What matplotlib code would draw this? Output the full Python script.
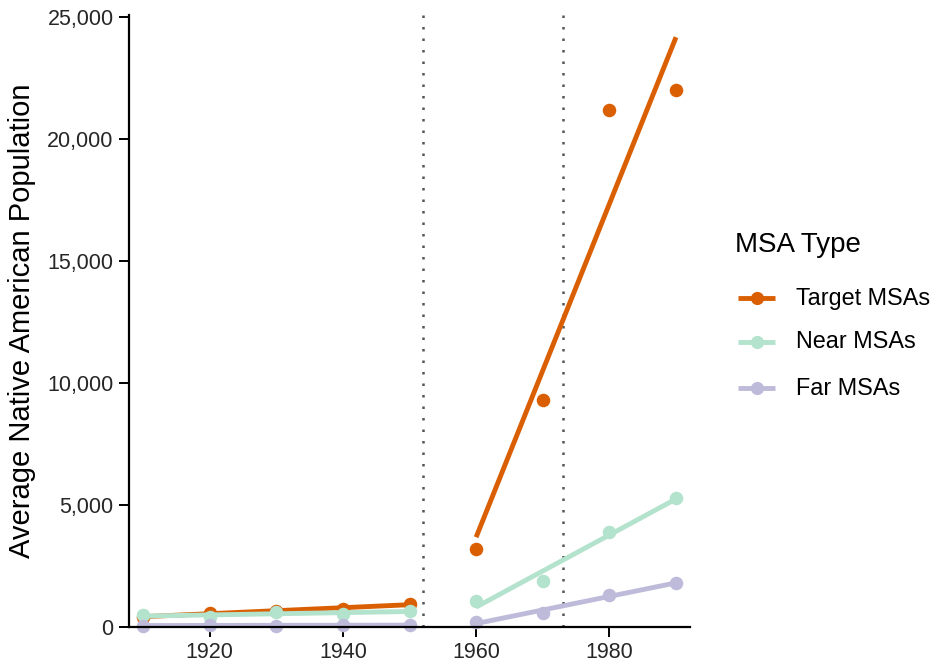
import numpy as np
import matplotlib
matplotlib.use("Agg")
import matplotlib.pyplot as plt
from matplotlib.lines import Line2D
from matplotlib.ticker import FuncFormatter

plt.rcParams['font.family'] = ['Liberation Sans', 'DejaVu Sans']

years_pre = [1910, 1920, 1930, 1940, 1950]
years_post = [1960, 1970, 1980, 1990]

target_pre = [410, 590, 650, 740, 950]
target_post = [3200, 9300, 21200, 22000]
near_pre = [490, 420, 600, 530, 670]
near_post = [1050, 1880, 3900, 5300]
far_pre = [60, 70, 60, 70, 80]
far_post = [200, 570, 1330, 1800]

policy_years = [1952, 1973]
series_names = ["Target MSAs", "Near MSAs", "Far MSAs"]
colors = ["#D95F02", "#B3E2CD", "#BEBADA"]
yticks = [0, 5000, 10000, 15000, 20000, 25000]
xticks = [1920, 1940, 1960, 1980]

W, H = 936, 664
fig = plt.figure(figsize=(W/100, H/100), dpi=100)
ax = fig.add_axes([129/W, 1-627/H, (690-129)/W, (627-15)/H])

data = [(target_pre, target_post), (near_pre, near_post), (far_pre, far_post)]
for i, ((pre, post), c) in enumerate(zip(data, colors)):
    z = 3 + i
    for xs, ys in ((years_pre, pre), (years_post, post)):
        xs = np.array(xs, float); ys = np.array(ys, float)
        b, a = np.polyfit(xs, ys, 1)
        ax.plot([xs[0], xs[-1]], [a + b*xs[0], a + b*xs[-1]], color=c, lw=3.5,
                solid_capstyle='butt', zorder=z, clip_on=False)
        ax.scatter(xs, ys, s=95, color=c, zorder=z, clip_on=False, linewidths=0)

for yr in policy_years:
    ax.axvline(yr, color="#555555", lw=1.8, linestyle=(0, (1, 3.6)), zorder=2)

ax.set_xlim(1907.9, 1992.1)
ax.set_ylim(0, 25080)
ax.set_xticks(xticks)
ax.set_yticks(yticks)
ax.yaxis.set_major_formatter(FuncFormatter(lambda v, p: f"{int(v):,}"))
for s in ["top", "right"]:
    ax.spines[s].set_visible(False)
for s in ["left", "bottom"]:
    ax.spines[s].set_linewidth(1.6)
    ax.spines[s].set_zorder(10)
ax.tick_params(axis='both', labelsize=15.5, colors="black", width=1.4, length=7,
               labelcolor="#262626", pad=4)
ax.set_ylabel("Average Native American Population", fontsize=21, labelpad=8)

# legend drawn manually in figure pixel coordinates
fig.text(735/W, 1-245/H, "MSA Type", fontsize=20, va='center', ha='left')
for k, (name, c) in enumerate(zip(series_names, colors)):
    yy = 1 - [298, 342, 388][k]/H
    fig.add_artist(Line2D([738/W, 775/W], [yy, yy], color=c, lw=3.5,
                          solid_capstyle='butt'))
    fig.add_artist(Line2D([756.5/W], [yy], color=c, marker='o', markersize=9.5,
                          markeredgewidth=0, lw=0))
    fig.text(796/W, yy, name, fontsize=16.8, va='center', ha='left')

fig.savefig("out.png", dpi=100)
